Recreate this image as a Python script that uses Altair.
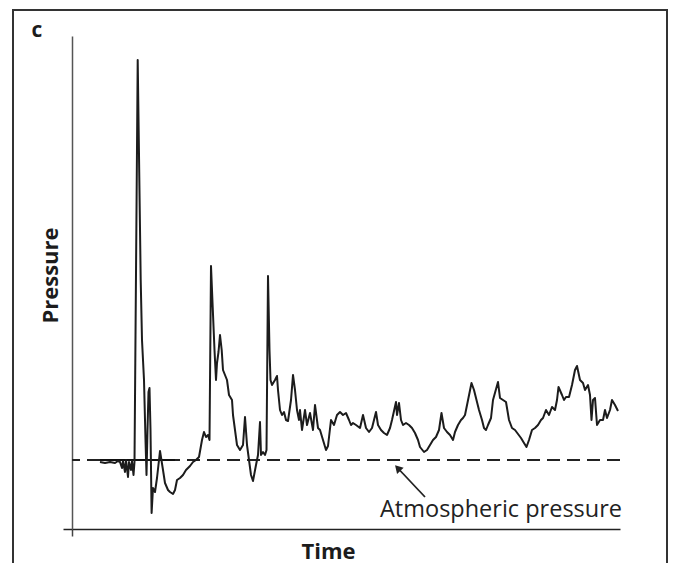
import altair as alt
import pandas as pd

# ---- data (time in ms, pressure in arbitrary units) ----
time_ms = [
    28, 33, 38, 43, 46, 48, 50, 51, 53, 54, 56, 57, 59, 60, 61.5, 62.5,
    65.7, 68.7, 70, 72, 73.5, 74.5, 75.5, 76.5, 77.5, 78.5, 79.6, 81, 83, 85, 88, 91, 93,
    96, 98, 101, 103, 105, 108, 111, 114, 118, 121, 124, 127, 130, 132, 134, 136, 137.5,
    139, 140.7, 142.5, 144, 145, 146.5, 148, 149.7, 151, 153, 155, 157, 160, 161, 163,
    165, 168, 171, 173, 175, 177, 179, 181, 184, 186, 188, 189, 191, 193, 194.5,
    196, 197.5, 198.5, 200, 203, 205, 206, 208, 210, 212, 214, 216, 219, 221, 223,
    225, 227, 228, 230, 233, 235, 238, 241, 243, 246, 248, 251, 254, 256,
    259, 262, 265, 268, 271, 274, 277, 279, 281, 284, 288, 291, 294, 297, 300, 304,
    306, 309, 312, 315, 318, 320, 324, 325, 327, 329, 331, 334, 337, 340, 343, 346,
    348, 352, 355, 358, 361, 364, 367, 369.5,
    372, 375, 378, 381, 383, 386, 389, 391, 393, 399.5, 402, 404, 407, 410, 412,
    414, 416, 419, 421, 426, 428, 431, 434, 437, 440, 443, 446, 449, 452, 454.5,
    457, 460, 463, 466, 469, 471, 474, 477, 480, 483, 485, 486.5, 490, 492, 494,
    497, 500, 503, 505, 508, 511, 513, 516, 518, 519.5, 521, 523, 525, 528, 531,
    533, 535, 538, 540, 543, 546,
]
pressure = [
    67, 66, 67, 66, 68, 67, 61, 68, 57, 69, 52, 67, 59, 68, 54, 67,
    469, 249, 189, 149, 89, 54, 99, 137, 141, 99, 16, 41, 37, 51, 78, 59, 46,
    39, 37, 35, 39, 49, 51, 54, 59, 63, 67, 69, 72, 89, 97, 92, 94, 89,
    263, 222, 179, 149, 166, 177, 194, 179, 159, 154, 149, 134, 129, 114, 99,
    84, 79, 84, 112, 84, 69, 54, 48, 64, 74, 107, 74, 77, 74, 79,
    253, 179, 149, 144, 149, 153, 139, 119, 114, 117, 109, 108, 129, 154, 139,
    119, 109, 119, 99, 119, 104, 116, 99, 124, 101, 99, 89, 79, 83,
    109, 104, 114, 117, 114, 116, 109, 104, 106, 104, 101, 114, 101, 97, 101, 117,
    104, 99, 96, 94, 101, 109, 127, 114, 126, 109, 104, 106, 104, 101, 96, 89,
    82, 77, 79, 84, 89, 92, 99, 116,
    101, 97, 94, 89, 97, 104, 109, 111, 114, 146, 139, 131, 119, 109, 101,
    99, 104, 111, 129, 147, 131, 129, 127, 109, 101, 99, 95, 91, 86, 82,
    89, 99, 101, 104, 109, 111, 119, 114, 122, 119, 129, 142, 134, 129, 132,
    132, 144, 159, 163, 149, 146, 139, 144, 134, 109, 129, 131, 104, 109, 109,
    119, 111, 119, 129, 124, 118,
]
assert len(time_ms) == len(pressure), (len(time_ms), len(pressure))

atmospheric_level = [69]
solid_baseline_time = [28, 103]
annotation_text = ["Atmospheric pressure"]
annotation_pos = [550, 12]          # right end / baseline of the label
arrow_tail = [353, 32]
arrow_head = [325.7, 61]
panel_label = ["c"]
x_domain = [0, 548]
y_domain = [0, 493]

FONT = "Open Sans"
INK = "#1c1c1c"

xs = alt.Scale(domain=x_domain, nice=False, zero=False)
ys = alt.Scale(domain=y_domain, nice=False, zero=False)

X_AXIS = alt.Axis(
    title="Time", labels=False, values=[0], tickSize=7, tickColor="#444", tickWidth=1.5,
    domainColor="#222", domainWidth=1.5, grid=False,
    titleFont=FONT, titleFontSize=22, titleFontWeight="bold", titleColor=INK,
    titleX=256, titleY=29, titleAlign="center", titleBaseline="alphabetic",
)
Y_AXIS = alt.Axis(
    title="Pressure", labels=False, values=[0], tickSize=9, tickColor="#222", tickWidth=1.5,
    domainColor="#555", domainWidth=1.5, grid=False,
    titleFont=FONT, titleFontSize=22, titleFontWeight="bold", titleColor=INK,
    titleAngle=270, titleX=-15, titleY=239, titleAlign="center", titleBaseline="alphabetic",
)

trace_df = pd.DataFrame({"Time": time_ms, "Pressure": pressure})

frame = alt.Chart(pd.DataFrame({"k": [0]})).mark_rect(
    fill="white", fillOpacity=0, stroke="#333", strokeWidth=2
).encode(x=alt.value(-59), x2=alt.value(595), y=alt.value(-26), y2=alt.value(560))

dashed = alt.Chart(pd.DataFrame({"Pressure": atmospheric_level})).mark_rule(
    color="#222", strokeWidth=2, strokeDash=[13, 7]
).encode(y=alt.Y("Pressure:Q", scale=ys, axis=Y_AXIS))

solid = alt.Chart(pd.DataFrame({
    "Time": [solid_baseline_time[0]], "Time2": [solid_baseline_time[1]],
    "Pressure": atmospheric_level,
})).mark_rule(color="#111", strokeWidth=2).encode(
    x=alt.X("Time:Q", scale=xs, axis=X_AXIS), x2="Time2:Q",
    y=alt.Y("Pressure:Q", scale=ys, axis=Y_AXIS),
)

trace = alt.Chart(trace_df).mark_line(
    color=INK, strokeWidth=2, strokeJoin="round"
).encode(
    x=alt.X("Time:Q", scale=xs, axis=X_AXIS),
    y=alt.Y("Pressure:Q", scale=ys, axis=Y_AXIS),
)

arrow_line = alt.Chart(pd.DataFrame({
    "Time": [arrow_tail[0]], "Pressure": [arrow_tail[1]],
    "Time2": [arrow_head[0]], "Pressure2": [arrow_head[1]],
})).mark_rule(color="#222", strokeWidth=1.8).encode(
    x=alt.X("Time:Q", scale=xs, axis=X_AXIS), x2="Time2:Q",
    y=alt.Y("Pressure:Q", scale=ys, axis=Y_AXIS), y2="Pressure2:Q",
)

arrow_tip = alt.Chart(pd.DataFrame({
    "Time": [arrow_head[0]], "Pressure": [arrow_head[1]],
})).mark_point(
    shape="triangle-up", filled=True, size=80, angle=317, color="#222", opacity=1
).encode(
    x=alt.X("Time:Q", scale=xs, axis=X_AXIS),
    y=alt.Y("Pressure:Q", scale=ys, axis=Y_AXIS),
)

label = alt.Chart(pd.DataFrame({
    "Time": [annotation_pos[0]], "Pressure": [annotation_pos[1]], "txt": annotation_text,
})).mark_text(
    align="right", baseline="alphabetic", font=FONT, fontSize=23.5, color="#222"
).encode(
    x=alt.X("Time:Q", scale=xs, axis=X_AXIS),
    y=alt.Y("Pressure:Q", scale=ys, axis=Y_AXIS),
    text="txt:N",
)

panel = alt.Chart(pd.DataFrame({"txt": panel_label})).mark_text(
    align="center", baseline="alphabetic", font=FONT, fontSize=21, fontWeight="bold", color=INK
).encode(x=alt.value(-35), y=alt.value(1), text="txt:N")

chart = alt.layer(frame, dashed, solid, trace, arrow_line, arrow_tip, label, panel).properties(
    width=548, height=493,
    padding={"left": 64, "top": 28, "right": 48, "bottom": 34},
    autosize=alt.AutoSizeParams(type="none"),
    background="white",
).configure_view(stroke=None)

chart.save("out.html", embed_options={"renderer": "svg", "actions": False})
